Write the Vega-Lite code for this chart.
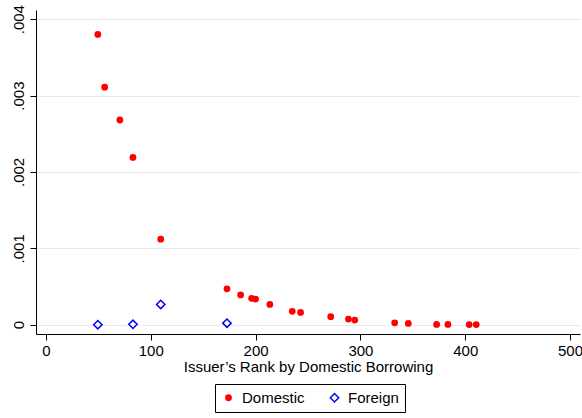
{
  "$schema": "https://vega.github.io/schema/vega-lite/v6.json",
  "width": 544,
  "height": 324,
  "padding": {"left": 36, "top": 10, "right": 2, "bottom": 84},
  "autosize": {"type": "none"},
  "background": "white",
  "config": {
    "view": {"stroke": null},
    "font": "Liberation Sans",
    "axis": {"labelFont": "Liberation Sans", "titleFont": "Liberation Sans", "labelColor": "black", "titleColor": "black", "domainColor": "black", "tickColor": "black", "titleFontWeight": "normal"},
    "legend": {"orient": "none", "legendX": 179, "legendY": 374, "direction": "horizontal", "strokeColor": "black", "strokeWidth": 1, "padding": 6, "labelFont": "Liberation Sans", "labelFontSize": 15, "labelColor": "black", "labelOffset": 6, "columnPadding": 22, "symbolStrokeWidth": 1.5, "title": null, "fillColor": "white"}
  },
  "data": {
    "values": [
      {"rank": 49.5, "share": 0.0038, "type": "Domestic"},
      {"rank": 56, "share": 0.00311, "type": "Domestic"},
      {"rank": 70.5, "share": 0.00268, "type": "Domestic"},
      {"rank": 83, "share": 0.00219, "type": "Domestic"},
      {"rank": 109.5, "share": 0.00112, "type": "Domestic"},
      {"rank": 172.7, "share": 0.00047, "type": "Domestic"},
      {"rank": 185.7, "share": 0.00039, "type": "Domestic"},
      {"rank": 196.2, "share": 0.000345, "type": "Domestic"},
      {"rank": 200, "share": 0.000335, "type": "Domestic"},
      {"rank": 213.6, "share": 0.000265, "type": "Domestic"},
      {"rank": 235, "share": 0.000175, "type": "Domestic"},
      {"rank": 242.9, "share": 0.00016, "type": "Domestic"},
      {"rank": 271.7, "share": 0.000105, "type": "Domestic"},
      {"rank": 288.6, "share": 0.000074, "type": "Domestic"},
      {"rank": 294.6, "share": 0.00006, "type": "Domestic"},
      {"rank": 332.7, "share": 0.000025, "type": "Domestic"},
      {"rank": 345.7, "share": 0.000016, "type": "Domestic"},
      {"rank": 372.7, "share": 0.000004, "type": "Domestic"},
      {"rank": 383.5, "share": 0.000004, "type": "Domestic"},
      {"rank": 403.8, "share": 0.000001, "type": "Domestic"},
      {"rank": 410.5, "share": 0.000001, "type": "Domestic"},
      {"rank": 49.5, "share": 0.0, "type": "Foreign"},
      {"rank": 83, "share": 0.000005, "type": "Foreign"},
      {"rank": 109.5, "share": 0.000265, "type": "Foreign"},
      {"rank": 172.7, "share": 0.00002, "type": "Foreign"}
    ]
  },
  "mark": {"type": "point", "opacity": 1, "strokeWidth": 1.5},
  "encoding": {
    "x": {
      "field": "rank", "type": "quantitative",
      "scale": {"domain": [-9.5, 509.5], "nice": false, "zero": false},
      "axis": {"values": [0, 100, 200, 300, 400, 500], "grid": false, "tickSize": 6, "labelFontSize": 15, "labelPadding": 3, "title": "Issuer’s Rank by Domestic Borrowing", "titleFontSize": 15, "titlePadding": 1, "labelFlush": false, "domainWidth": 1}
    },
    "y": {
      "field": "share", "type": "quantitative",
      "scale": {"domain": [-0.000122, 0.00412], "nice": false, "zero": false},
      "axis": {"values": [0, 0.001, 0.002, 0.003, 0.004], "grid": true, "gridColor": "#e3edf0", "gridWidth": 1, "tickSize": 6, "labelFontSize": 15, "labelAngle": -90, "labelAlign": "center", "labelBaseline": "bottom", "labelPadding": 4, "labelFlush": false, "title": null, "labelExpr": "datum.value == 0 ? '0' : replace(format(datum.value, '.3f'), '0.', '.')"}
    },
    "shape": {"field": "type", "type": "nominal", "title": null, "scale": {"domain": ["Domestic", "Foreign"], "range": ["circle", "diamond"]}},
    "fill": {"field": "type", "type": "nominal", "title": null, "scale": {"domain": ["Domestic", "Foreign"], "range": ["#ff0000", "transparent"]}},
    "stroke": {"field": "type", "type": "nominal", "title": null, "scale": {"domain": ["Domestic", "Foreign"], "range": ["#ff0000", "#0000ff"]}},
    "size": {"field": "type", "type": "nominal", "title": null, "scale": {"domain": ["Domestic", "Foreign"], "range": [28, 70]}}
  }
}
